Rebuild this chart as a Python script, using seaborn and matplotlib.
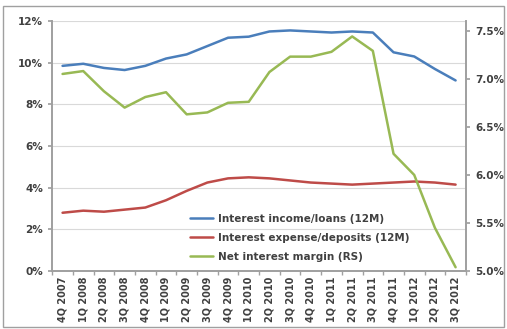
import matplotlib
matplotlib.use("Agg")
import matplotlib.pyplot as plt
import seaborn as sns
import pandas as pd
from matplotlib.patches import Rectangle
from matplotlib.lines import Line2D
from matplotlib.ticker import FuncFormatter, FixedLocator

quarters = ["4Q 2007", "1Q 2008", "2Q 2008", "3Q 2008", "4Q 2008", "1Q 2009", "2Q 2009",
            "3Q 2009", "4Q 2009", "1Q 2010", "2Q 2010", "3Q 2010", "4Q 2010", "1Q 2011",
            "2Q 2011", "3Q 2011", "4Q 2011", "1Q 2012", "2Q 2012", "3Q 2012"]
income_loans = [9.85, 9.95, 9.75, 9.65, 9.85, 10.2, 10.4, 10.8, 11.2, 11.25,
                11.5, 11.55, 11.5, 11.45, 11.5, 11.45, 10.5, 10.3, 9.7, 9.15]
expense_deposits = [2.8, 2.9, 2.85, 2.95, 3.05, 3.4, 3.85, 4.25, 4.45, 4.5,
                    4.45, 4.35, 4.25, 4.2, 4.15, 4.2, 4.25, 4.3, 4.25, 4.15]
net_margin = [7.05, 7.08, 6.87, 6.70, 6.81, 6.86, 6.63, 6.65, 6.75, 6.76,
              7.07, 7.23, 7.23, 7.28, 7.44, 7.29, 6.22, 6.00, 5.45, 5.04]
labels = ["Interest income/loans (12M)", "Interest expense/deposits (12M)", "Net interest margin (RS)"]

sns.set_theme(style="white")
plt.rcParams['font.family'] = ['DejaVu Sans']

x = list(range(len(quarters)))
df_left = pd.DataFrame({"x": x * 2,
                        "val": income_loans + expense_deposits,
                        "series": [labels[0]] * len(x) + [labels[1]] * len(x)})
df_right = pd.DataFrame({"x": x, "val": net_margin, "series": [labels[2]] * len(x)})

fig = plt.figure(figsize=(5.07, 3.29), dpi=100)
ax = fig.add_axes([0.103, 0.176, 0.816, 0.760])
ax2 = ax.twinx()

colors = {labels[0]: "#4A7EBB", labels[1]: "#BE4B48", labels[2]: "#98B954"}
sns.lineplot(data=df_left, x="x", y="val", hue="series", palette=colors, ax=ax,
             linewidth=1.8, legend=False)
sns.lineplot(data=df_right, x="x", y="val", hue="series", palette=colors, ax=ax2,
             linewidth=1.8, legend=False)

ax.set_xlim(-0.5, len(x) - 0.5)
ax.set_ylim(0, 12)
ax2.set_ylim(5.0, 7.6)
ax.set_yticks([0, 2, 4, 6, 8, 10, 12])
ax.yaxis.set_major_formatter(FuncFormatter(lambda v, p: f"{v:.0f}%"))
ax2.set_yticks([5.0, 5.5, 6.0, 6.5, 7.0, 7.5])
ax2.yaxis.set_major_formatter(FuncFormatter(lambda v, p: f"{v:.1f}%"))
ax.set_xticks(x)
ax.set_xticklabels(quarters, rotation=90, fontsize=7, fontweight="bold", color="#404040")
ax.xaxis.set_minor_locator(FixedLocator([i - 0.5 for i in range(len(x) + 1)]))
ax.tick_params(axis="x", which="major", length=0, pad=4)
ax.tick_params(axis="x", which="minor", length=3, color="#A0A0A0", bottom=True)
ax.tick_params(axis="y", labelsize=7.5, colors="#404040", length=3, color="#A0A0A0", left=True)
ax2.tick_params(axis="y", labelsize=7.5, colors="#404040", length=3, color="#A0A0A0", right=True)
for lab in ax.get_yticklabels() + ax2.get_yticklabels():
    lab.set_fontweight("bold")
ax.set_xlabel("")
ax.set_ylabel("")
ax2.set_ylabel("")
ax.grid(axis="y", color="#D9D9D9", linewidth=0.8)
ax.set_axisbelow(True)
for a in (ax, ax2):
    a.spines["top"].set_visible(False)
    for s in ("left", "right", "bottom"):
        a.spines[s].set_color("#A0A0A0")
        a.spines[s].set_visible(True)

handles = [Line2D([], [], color=colors[l], linewidth=1.8) for l in labels]
leg = ax.legend(handles, labels, loc="lower left", bbox_to_anchor=(0.31, 0.0),
                frameon=False, fontsize=7.5, handlelength=2.2, handletextpad=0.5,
                labelspacing=0.85)
for t in leg.get_texts():
    t.set_color("#404040")
    t.set_fontweight("bold")

fig.patches.append(Rectangle((0.006, 0.006), 0.988, 0.975, transform=fig.transFigure,
                             fill=False, edgecolor="#A0A0A0", linewidth=1))

fig.savefig("out.png", dpi=100)
